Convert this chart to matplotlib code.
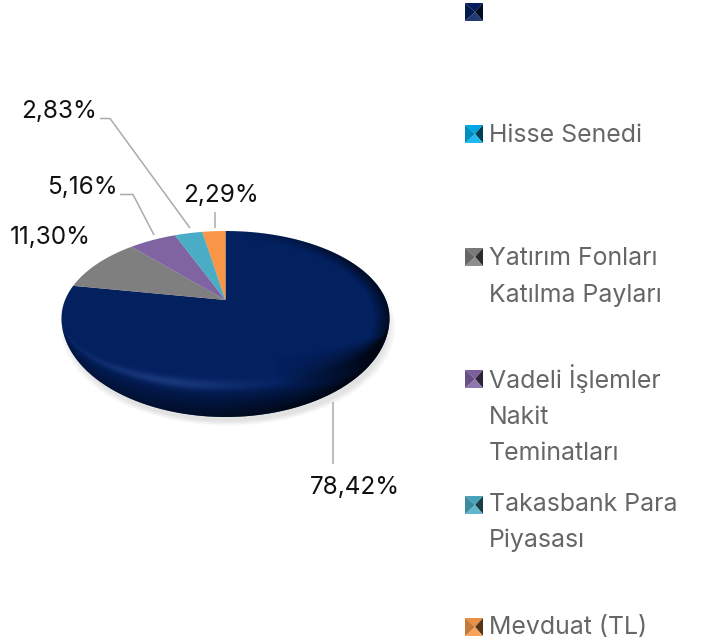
import numpy as np
import matplotlib
matplotlib.use("Agg")
import matplotlib.pyplot as plt
from matplotlib.path import Path
from matplotlib.patches import PathPatch, Polygon
from matplotlib.colors import to_rgb

# ---- data ----
slice_names = ["", "Hisse Senedi", "Yatırım Fonları Katılma Payları", "Vadeli İşlemler Nakit Teminatları",
               "Takasbank Para Piyasası", "Mevduat (TL)"]
slice_values = [78.42, 0.0, 11.30, 5.16, 2.83, 2.29]
slice_colors = ["#03205F", "#00B0F0", "#7F7F7F", "#8064A2", "#4BACC6", "#F79646"]
value_labels = ["78,42%", "", "11,30%", "5,16%", "2,83%", "2,29%"]
legend_lines = [[""], ["Hisse Senedi"], ["Yatırım Fonları", "Katılma Payları"],
                ["Vadeli İşlemler", "Nakit", "Teminatları"],
                ["Takasbank Para", "Piyasası"], ["Mevduat (TL)"]]

W, H = 708, 644
AX_, AY_ = 225.5, 300.0         # apex of the wedges, pixels
RX, RY = 164.0, 70.0            # pixels per unit radius
EY, RUP, RLOW = 318.0, 87.0, 99.0   # body silhouette
FONT = "Inter"

fig = plt.figure(figsize=(W / 100, H / 100), dpi=100, facecolor="white")
ax = fig.add_axes([0, 0, 1, 1])
xlim = (-AX_ / RX, (W - AX_) / RX)
ylim = ((AY_ - H) / RY, AY_ / RY)


def to_data(px, py):
    return (np.asarray(px) - AX_) / RX, (AY_ - np.asarray(py)) / RY


PX, PY = np.meshgrid(np.arange(W) + 0.5, np.arange(H) + 0.5)
extent = (*xlim, *ylim)

# Soft ground shadow
d = np.hypot((PX - 228) / 168.0, (PY - 328) / 98.0)
shadow = np.zeros((H, W, 4))
shadow[..., :3] = 0.45
shadow[..., 3] = np.clip((1.0 - d) / 0.05, 0, 1) * 0.2
ax.imshow(shadow, extent=extent, aspect="auto", zorder=1, interpolation="bilinear")

# Silhouette of the body
th = np.linspace(0, 2 * np.pi, 400)
sx = AX_ + RX * np.cos(th)
sy = EY - np.where(np.sin(th) > 0, RUP, RLOW) * np.sin(th)
sil = PathPatch(Path(np.c_[to_data(sx, sy)]), transform=ax.transData, fc="none", ec="none")
ax.add_patch(sil)

# Wedges from the data, clipped to the silhouette
wedges, _ = ax.pie(slice_values, colors=slice_colors, startangle=90, counterclock=False, radius=1.85,
                   wedgeprops=dict(linewidth=0))
for w in wedges:
    w.set_zorder(3)
    w.set_clip_on(True)
    w.set_clip_path(sil)

# Shading of the lower body
u = (PX - AX_) / RX
v = (PY - EY) / np.where(PY > EY, RLOW, RUP)
p = np.hypot(u, v)
t = np.where(PY > EY, v / np.sqrt(np.clip(1 - u ** 2, 1e-4, 1)), 0)
lr = np.clip((u + 1) / 2, 0, 1)
dark = np.clip((t - 0.70) / 0.30, 0, 1) ** 0.8 * (0.35 + 0.6 * lr)
dark = np.maximum(dark, np.clip((p - 0.90) / 0.10, 0, 1) * np.clip((u - 0.1) / 0.7, 0, 1) * 0.65)
dark = np.maximum(dark, np.clip((t - 0.40) / 0.30, 0, 1) * np.clip((u - 0.3) / 0.6, 0, 1) * 0.8)
dark_img = np.zeros((H, W, 4))
dark_img[..., 3] = np.clip(dark, 0, 0.92)
im1 = ax.imshow(dark_img, extent=extent, aspect="auto", zorder=4, interpolation="bilinear")
im1.set_clip_path(sil)

glow = np.exp(-((t - 0.68) / 0.055) ** 2) * np.exp(-((u + 0.35) / 0.5) ** 2) * 0.32
glow_img = np.zeros((H, W, 4))
glow_img[..., :3] = np.array([70, 105, 180]) / 255
glow_img[..., 3] = np.clip(glow, 0, 1)
im2 = ax.imshow(glow_img, extent=extent, aspect="auto", zorder=5, interpolation="bilinear")
im2.set_clip_path(sil)

ax.set_aspect("auto")
ax.set_xlim(*xlim)
ax.set_ylim(*ylim)
ax.axis("off")

# Overlay axes in pixel coordinates for labels, leaders and legend
ov = fig.add_axes([0, 0, 1, 1], facecolor="none")
ov.set_xlim(0, W)
ov.set_ylim(H, 0)
ov.axis("off")

leaders = {
    "2,83%": ([100, 110, 190], [118.5, 118.5, 228]),
    "5,16%": ([120, 133, 154], [194.5, 194.5, 235]),
    "2,29%": ([215, 215], [212, 228]),
    "78,42%": ([333, 333], [402, 464]),
}
for xv, yv in leaders.values():
    ov.plot(xv, yv, color="#ABABAB", lw=1.1, solid_capstyle="butt", zorder=6)

label_pos = {"2,83%": (59.5, 111.5), "5,16%": (82.5, 187), "2,29%": (221, 195),
             "11,30%": (50, 237), "78,42%": (355, 487)}
for s in value_labels:
    if s:
        ov.text(*label_pos[s], s, ha="center", va="center", fontsize=17.5, color="#111111",
                family=FONT, zorder=7)

# Legend
marker_y = [12, 134, 257, 379, 505, 627]
text_base = [[20], [142], [265, 302], [388, 424, 460], [511, 547], [634]]


def shade(c, f):
    rgb = np.array(to_rgb(c))
    return tuple(np.clip(rgb * f, 0, 1)) if f <= 1 else tuple(np.clip(rgb + (1 - rgb) * (f - 1), 0, 1))


for col, my, lines, tys in zip(slice_colors, marker_y, legend_lines, text_base):
    x0, x1, y0, y1 = 465, 483, my - 9, my + 9
    xc, yc = (x0 + x1) / 2 + 1, (y0 + y1) / 2
    ov.add_patch(Polygon([(x0, y0), (x1, y0), (xc, yc)], fc=shade(col, 0.95), ec="none", zorder=6))
    ov.add_patch(Polygon([(x1, y0), (x1, y1), (xc, yc)], fc=shade(col, 0.35), ec="none", zorder=6))
    ov.add_patch(Polygon([(x0, y1), (x1, y1), (xc, yc)], fc=shade(col, 1.12), ec="none", zorder=6))
    ov.add_patch(Polygon([(x0, y0), (x0, y1), (xc, yc)], fc=shade(col, 0.8), ec="none", zorder=6))
    for line, ty in zip(lines, tys):
        if line:
            ov.text(489, ty, line, ha="left", va="baseline", fontsize=17.9, color="#666666",
                    family=FONT, zorder=7)

fig.savefig("out.png", dpi=100, facecolor="white")
